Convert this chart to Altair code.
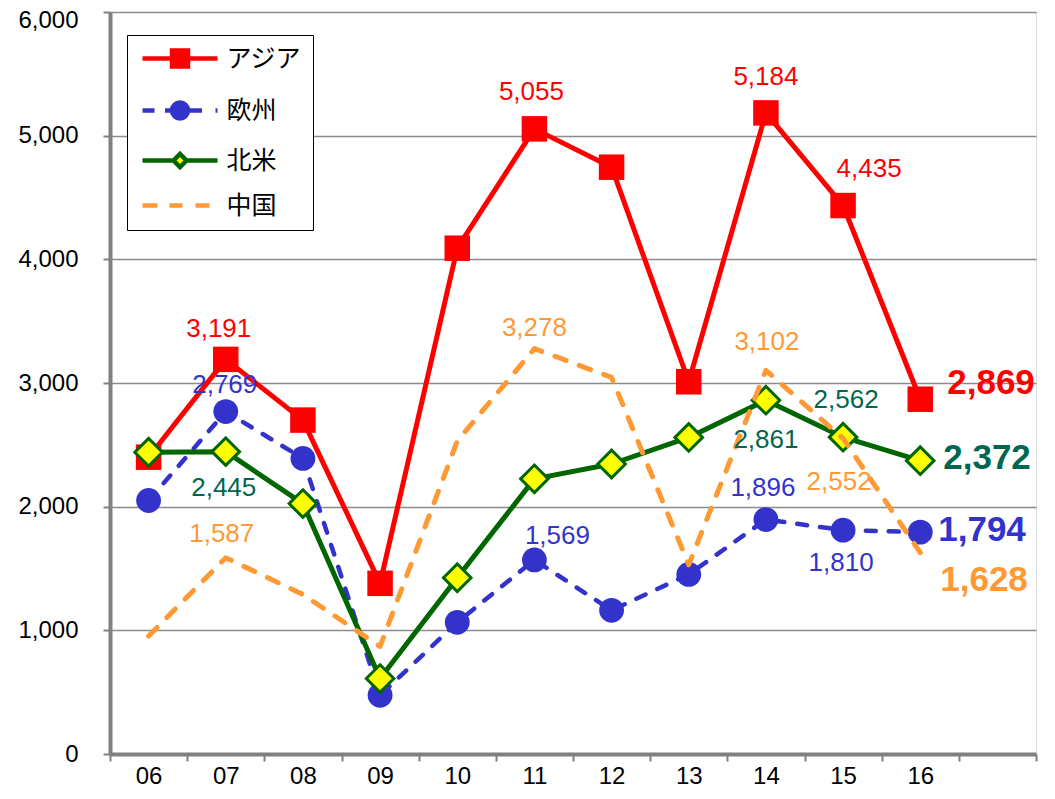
import altair as alt
import pandas as pd

years = ["06", "07", "08", "09", "10", "11", "12", "13", "14", "15", "16"]
x_domain = years + [" "]
series = ["アジア", "欧州", "北米", "中国"]

asia = [2400, 3191, 2700, 1380, 4090, 5055, 4745, 3010, 5184, 4435, 2869]
europe = [2050, 2769, 2390, 475, 1065, 1569, 1162, 1452, 1896, 1810, 1794]
north_america = [2440, 2445, 2025, 610, 1425, 2225, 2345, 2560, 2861, 2562, 2372]
china = [954, 1587, 1290, 870, 2530, 3278, 3045, 1530, 3102, 2552, 1628]

values = {"アジア": asia, "欧州": europe, "北米": north_america, "中国": china}

line_colors = ["#FF0000", "#3333CC", "#006600", "#FF9933"]
label_colors = {"アジア": "#FF0000", "欧州": "#3333CC", "北米": "#006650", "中国": "#FF9933"}

rows = []
for s in series:
    for y, v in zip(years, values[s]):
        rows.append({"series": s, "year": y, "value": v})
df = pd.DataFrame(rows)

# label placement (offsets from the point, px)
label_offsets = {
    ("アジア", "07"): (-7, -30), ("アジア", "11"): (-3, -37), ("アジア", "14"): (0, -36), ("アジア", "15"): (26, -37),
    ("欧州", "07"): (-1, -27), ("欧州", "11"): (23, -24), ("欧州", "14"): (-3, -32), ("欧州", "15"): (-2, 33),
    ("北米", "07"): (-2, 36), ("北米", "14"): (0, 40), ("北米", "15"): (3, -37),
    ("中国", "07"): (-4, -24), ("中国", "11"): (0, -21), ("中国", "14"): (1, -28), ("中国", "15"): (-4, 44),
}
end_offsets = {"アジア": (27, -16), "欧州": (18, -2), "北米": (23, -3), "中国": (20, 27)}

# legend symbol paths (unit = 10px)
paths = {
    "アジア": "M-3.75,0L3.75,0M-0.8,-0.8L0.8,-0.8L0.8,0.8L-0.8,0.8Z",
    "欧州": "M-3.75,0L-2.55,0M-1.5,0L2.2,0M3.55,0L3.75,0M-0.8,0A0.8,0.8 0 1,1 0.8,0A0.8,0.8 0 1,1 -0.8,0Z",
    "北米": "M-3.75,0L-0.7,0M0.7,0L3.75,0M-0.65,0L0,-0.65L0.65,0L0,0.65Z",
    "中国": "M-3.75,0L-2.25,0M-1.05,0L0.25,0M1.55,0L2.95,0",
}
fills = {"アジア": "#FF0000", "欧州": "#3333CC", "北米": "#FFFF00", "中国": "transparent"}


def pick(mapping):
    expr = f"'{mapping[series[-1]]}'"
    for s in reversed(series[:-1]):
        expr = f"datum.value === '{s}' ? '{mapping[s]}' : ({expr})"
    return expr


legend = alt.Legend(
    title=None, orient="none", legendX=17, legendY=23,
    padding=11, rowPadding=17, symbolSize=400, symbolStrokeWidth=4.5,
    symbolOffset=29.5, labelOffset=34,
    symbolType=alt.ExprRef(expr=pick(paths)),
    symbolFillColor=alt.ExprRef(expr=pick(fills)),
    symbolOpacity=1,
    labelFont="Noto Sans CJK JP", labelFontSize=25, labelColor="black",
    strokeColor="black", fillColor="white",
)

x_enc = alt.X(
    "year:N",
    scale=alt.Scale(domain=x_domain, type="band", paddingInner=0, paddingOuter=0),
    axis=alt.Axis(title=None, labelAngle=0, tickBand="extent", domain=True, domainColor="#808080",
                  domainWidth=4, ticks=True, tickColor="#808080", tickWidth=2, tickSize=7,
                  labelFont="Liberation Sans", labelFontSize=24, labelColor="black",
                  labelPadding=3, grid=False),
)
y_enc = alt.Y(
    "value:Q",
    scale=alt.Scale(domain=[0, 6000], nice=False),
    axis=alt.Axis(title=None, values=[0, 1000, 2000, 3000, 4000, 5000, 6000], format=",.0f",
                  domain=True, domainColor="#808080", domainWidth=4,
                  ticks=True, tickColor="#808080", tickWidth=2, tickSize=7,
                  labelFont="Liberation Sans", labelFontSize=24, labelColor="black", labelPadding=25,
                  labelOffset={"condition": {"test": "datum.value === 6000", "value": 8}, "value": 0},
                  grid=True, gridColor="#8c8c8c", gridWidth=1.5),
)

base = alt.Chart(df).encode(x=x_enc, y=y_enc)

dash = {"アジア": None, "欧州": [10, 13], "北米": None, "中国": [12, 14]}
widths = {"アジア": 5, "欧州": 4.5, "北米": 5, "中国": 5}

layers = []
for i, s in enumerate(series):
    kw = dict(strokeWidth=widths[s], strokeCap="round" if dash[s] else "butt", strokeJoin="round")
    if dash[s]:
        kw["strokeDash"] = dash[s]
    sub = base.transform_filter(alt.datum.series == s)
    if i == 0:
        ln = sub.mark_line(**kw).encode(
            color=alt.Color("series:N", scale=alt.Scale(domain=series, range=line_colors), legend=legend)
        )
    else:
        ln = sub.mark_line(color=line_colors[i], **kw)
    layers.append(ln)
    if s == "アジア":
        layers.append(sub.mark_point(shape="square", size=650, filled=True, color="#FF0000", opacity=1))
    elif s == "欧州":
        layers.append(sub.mark_point(shape="circle", size=615, filled=True, color="#3333CC", opacity=1))
    elif s == "北米":
        layers.append(sub.mark_point(shape="diamond", size=760, filled=True, fill="#FFFF00",
                                     stroke="#006600", strokeWidth=3, opacity=1))

for (s, yr), (dx, dy) in label_offsets.items():
    layers.append(
        base.transform_filter((alt.datum.series == s) & (alt.datum.year == yr))
        .mark_text(font="Liberation Sans", fontSize=26, color=label_colors[s], dx=dx, dy=dy,
                   align="center", baseline="middle")
        .encode(text=alt.Text("value:Q", format=","))
    )
for s, (dx, dy) in end_offsets.items():
    layers.append(
        base.transform_filter((alt.datum.series == s) & (alt.datum.year == "16"))
        .mark_text(font="Liberation Sans", fontSize=35, fontWeight="bold", color=label_colors[s],
                   dx=dx, dy=dy, align="left", baseline="middle")
        .encode(text=alt.Text("value:Q", format=","))
    )

chart = alt.layer(*layers).properties(
    width=926, height=742,
    autosize=alt.AutoSizeParams(type="none"),
    padding={"left": 102, "top": 4, "right": 11, "bottom": 37},
).configure_view(stroke="#808080", strokeWidth=3).configure(background="white")

chart.save("out.html", embed_options={"renderer": "svg", "actions": False})
